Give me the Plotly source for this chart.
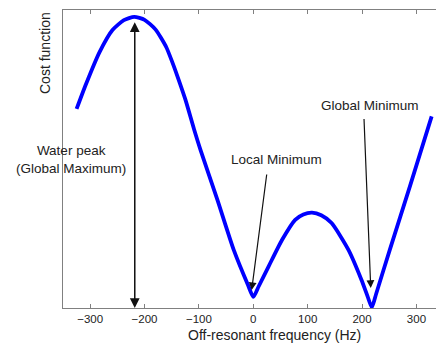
import plotly.graph_objects as go

# Cost function (frequency in Hz, cost in arbitrary units 0..1)
freq = [-325, -308, -283, -259, -238, -219, -200, -180, -160, -149, -140, -125, -109, -97, -66, -36, -10, 0,
        10, 28, 53, 77, 92, 108, 125, 144, 175, 199, 210, 218, 226, 251, 288, 328]
cost = [0.668, 0.750, 0.858, 0.933, 0.966, 0.977, 0.967, 0.935, 0.875, 0.825, 0.780, 0.700, 0.600, 0.530,
        0.363, 0.195, 0.078, 0.037,
        0.073, 0.139, 0.229, 0.296, 0.314, 0.320, 0.311, 0.285, 0.195, 0.094, 0.040, 0.002, 0.048,
        0.195, 0.408, 0.643]

tick_vals = [-300, -200, -100, 0, 100, 200, 300]

# annotation anchors (data units)
water_x = -218
water_top = 0.964
local_tip = (-3, 0.060)
local_tail = (25, 0.453)
global_tip = (216, 0.067)
global_tail = (203.5, 0.639)

fig = go.Figure()
fig.add_trace(go.Scatter(x=freq, y=cost, mode="lines",
                         line=dict(color="#0000ff", width=3.8, shape="spline", smoothing=0.6),
                         hoverinfo="skip", showlegend=False))

font = dict(family="Liberation Sans, Arial, sans-serif", size=13.5, color="#222222")
arrow_col = "#111111"

fig.add_annotation(x=water_x, y=0, ax=water_x, ay=water_top, xref="x", yref="y", axref="x", ayref="y",
                   text="", showarrow=True, arrowhead=2, startarrowhead=2, arrowside="end+start",
                   arrowsize=1.3, startarrowsize=1.3, arrowwidth=1.5, arrowcolor=arrow_col,
                   standoff=0, startstandoff=0)
fig.add_annotation(x=local_tip[0], y=local_tip[1], ax=local_tail[0], ay=local_tail[1],
                   xref="x", yref="y", axref="x", ayref="y", text="", showarrow=True,
                   arrowhead=2, arrowsize=1.3, arrowwidth=1.2, arrowcolor=arrow_col, standoff=0)
fig.add_annotation(x=global_tip[0], y=global_tip[1], ax=global_tail[0], ay=global_tail[1],
                   xref="x", yref="y", axref="x", ayref="y", text="", showarrow=True,
                   arrowhead=2, arrowsize=1.3, arrowwidth=1.2, arrowcolor=arrow_col, standoff=0)

fig.add_annotation(x=-336, y=0.50, xref="x", yref="y", text="Water peak<br>(Global Maximum)",
                   showarrow=False, font=font, align="center", xanchor="center", yanchor="middle")
fig.add_annotation(x=42.6, y=0.497, xref="x", yref="y", text="Local Minimum",
                   showarrow=False, font=font, xanchor="center", yanchor="middle")
fig.add_annotation(x=214.5, y=0.678, xref="x", yref="y", text="Global Minimum",
                   showarrow=False, font=font, xanchor="center", yanchor="middle")

# axis titles
fig.add_annotation(x=0.568, y=-0.089, xref="paper", yref="paper", text="Off-resonant frequency (Hz)",
                   showarrow=False, font=dict(family=font["family"], size=14, color="#222222"),
                   xanchor="center", yanchor="middle")
fig.add_annotation(x=-0.048, y=0.856, xref="paper", yref="paper", text="Cost function", textangle=-90,
                   showarrow=False, font=dict(family=font["family"], size=14, color="#222222"),
                   xanchor="center", yanchor="middle")

fig.update_layout(
    width=436, height=343,
    margin=dict(l=63, r=0, t=10, b=35),
    paper_bgcolor="white", plot_bgcolor="white",
    xaxis=dict(range=[-350, 336], tickvals=tick_vals, ticks="inside", ticklen=4, tickcolor="#808080",
               showline=True, linecolor="#808080", linewidth=1, mirror="ticks", showgrid=False,
               zeroline=False, automargin=False,
               tickfont=dict(family=font["family"], size=11.5, color="#222222")),
    yaxis=dict(range=[0, 1], showticklabels=False, ticks="", showline=True, linecolor="#808080",
               linewidth=1, mirror=False, showgrid=False, zeroline=False, automargin=False),
)

fig.write_html("out.html", config={"displayModeBar": False},
               post_script="document.body.style.margin='0';")
